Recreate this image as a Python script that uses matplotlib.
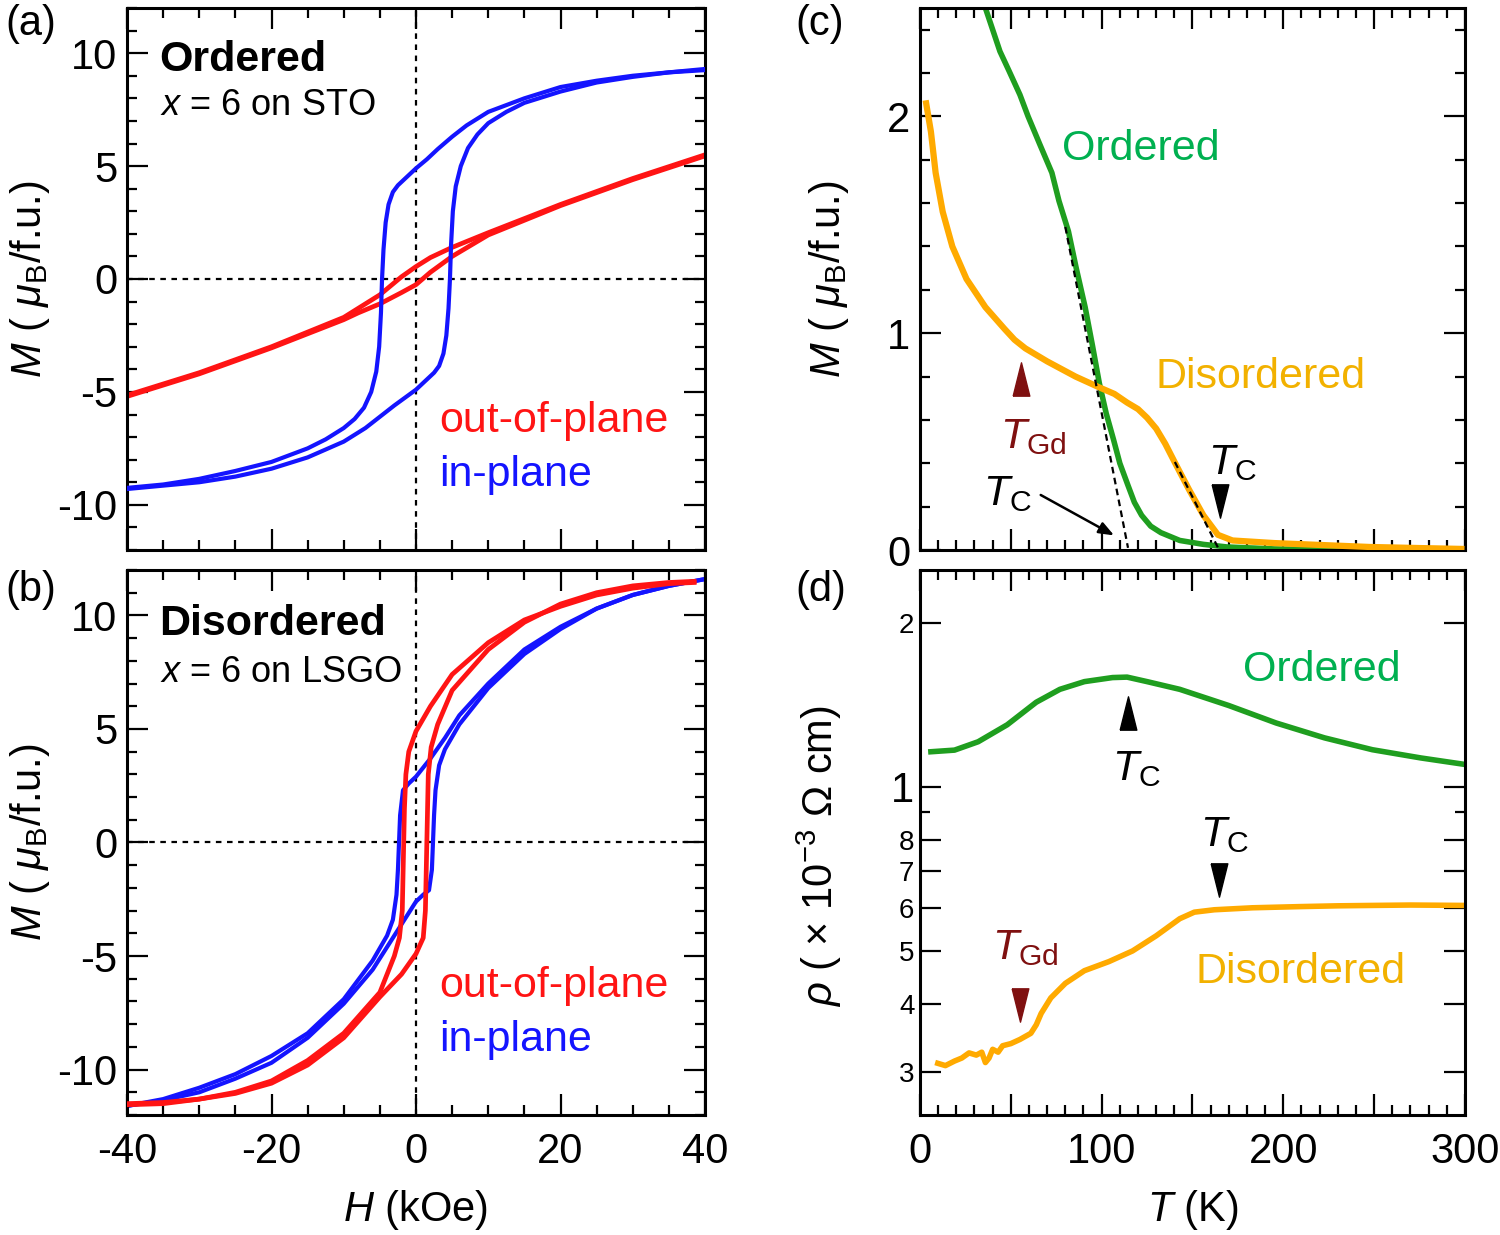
import matplotlib
matplotlib.use('Agg')
import matplotlib.pyplot as plt
from matplotlib.ticker import MultipleLocator, FixedLocator, NullFormatter, FuncFormatter

plt.rcParams['font.family'] = ['Liberation Sans', 'DejaVu Sans']
plt.rcParams['mathtext.fontset'] = 'custom'
plt.rcParams['mathtext.rm'] = 'Liberation Sans'
plt.rcParams['mathtext.it'] = 'Liberation Sans:italic'
plt.rcParams['mathtext.bf'] = 'Liberation Sans:bold'
plt.rcParams['axes.unicode_minus'] = False

# ---- (a) ordered, x = 6 on STO : M-H loops ----
a_blue_H_down = [40, 35, 30, 25, 20, 15, 10, 7, 5, 3, 1.5, 0, -1.5, -2.5, -3.2, -3.8, -4.2, -4.5, -4.7, -4.85, -5.1, -5.5, -6.2, -7.2, -8.5, -10, -12.5, -15, -20, -25, -30, -35, -40]
a_blue_M_down = [9.25, 9.15, 9.0, 8.78, 8.5, 8.0, 7.4, 6.8, 6.3, 5.75, 5.3, 4.9, 4.45, 4.15, 3.85, 3.3, 2.5, 1.3, 0, -1.5, -3.0, -4.1, -5.0, -5.7, -6.2, -6.6, -7.1, -7.5, -8.1, -8.5, -8.85, -9.1, -9.25]
a_blue_H_up = [-40, -35, -30, -25, -20, -15, -12.5, -10, -7, -5, -3, -1.5, 0, 1.5, 2.5, 3.2, 3.8, 4.2, 4.5, 4.7, 4.85, 5.1, 5.5, 6.2, 7.2, 8.5, 10, 12.5, 15, 20, 25, 30, 35, 40]
a_blue_M_up = [-9.3, -9.15, -9.0, -8.75, -8.4, -7.9, -7.55, -7.2, -6.6, -6.1, -5.6, -5.25, -4.9, -4.45, -4.15, -3.85, -3.3, -2.5, -1.3, 0, 1.5, 3.0, 4.1, 5.0, 5.8, 6.4, 6.9, 7.4, 7.8, 8.3, 8.7, 8.95, 9.15, 9.3]
a_red_H_down = [40, 30, 20, 10, 5, 2, 0, -2, -5, -8, -10, -20, -30, -40]
a_red_M_down = [5.5, 4.45, 3.3, 2.05, 1.4, 0.95, 0.55, 0.1, -0.7, -1.3, -1.7, -3.0, -4.15, -5.15]
a_red_H_up = [-40, -30, -20, -10, -8, -5, -2, 0, 2, 5, 10, 20, 30, 40]
a_red_M_up = [-5.2, -4.2, -3.05, -1.8, -1.5, -1.1, -0.6, -0.25, 0.3, 1.0, 1.95, 3.25, 4.4, 5.45]

# ---- (b) disordered, x = 6 on LSGO ----
b_red_H_down = [38.5, 35, 30, 25, 20, 15, 10, 5, 2, 0, -1, -1.4, -1.6, -1.7, -1.8, -1.9, -2.3, -3, -5, -10, -15, -20, -25, -30, -35, -40]
b_red_M_down = [11.45, 11.4, 11.2, 10.9, 10.4, 9.8, 8.8, 7.4, 6.0, 4.9, 4.0, 3.0, 1.5, 0, -1.5, -3.0, -4.2, -5.0, -6.6, -8.4, -9.6, -10.5, -11.0, -11.3, -11.45, -11.5]
b_red_H_up = [-40, -35, -30, -25, -20, -15, -10, -5, -2, 0, 1, 1.3, 1.4, 1.5, 1.6, 1.7, 2.1, 3, 5, 10, 15, 20, 25, 30, 35, 38.5]
b_red_M_up = [-11.55, -11.5, -11.3, -11.05, -10.6, -9.8, -8.6, -6.8, -5.8, -4.9, -4.2, -3.0, -1.5, 0, 1.5, 3.0, 4.2, 5.2, 6.7, 8.5, 9.7, 10.5, 11.0, 11.3, 11.45, 11.5]
b_blue_H_down = [40, 35, 30, 25, 20, 15, 10, 6, 4, 2, 0, -1, -1.8, -2.2, -2.35, -2.5, -2.7, -3.2, -4, -6, -10, -15, -20, -25, -30, -35, -40]
b_blue_M_down = [11.6, 11.3, 10.9, 10.3, 9.5, 8.5, 7.0, 5.6, 4.6, 3.7, 2.9, 2.6, 2.3, 1.2, 0, -1.2, -2.3, -3.4, -4.1, -5.2, -6.9, -8.4, -9.4, -10.2, -10.8, -11.3, -11.6]
b_blue_H_up = [-40, -35, -30, -25, -20, -15, -10, -6, -4, -2, 0, 1, 1.8, 2.2, 2.35, 2.5, 2.7, 3.2, 4, 6, 10, 15, 20, 25, 30, 35, 40]
b_blue_M_up = [-11.6, -11.35, -11.0, -10.4, -9.7, -8.6, -7.1, -5.6, -4.6, -3.6, -2.6, -2.3, -2.1, -1.2, 0, 1.2, 2.3, 3.4, 4.1, 5.2, 6.8, 8.3, 9.4, 10.3, 10.9, 11.3, 11.6]

# ---- (c) M-T ----
c_ord_T = [36, 44, 49, 55, 59.5, 66, 72.6, 76.5, 81.7, 86, 90.9, 95, 98.7, 102.5, 106.5, 110, 114.4, 118, 122, 127, 132.6, 143, 156, 169, 195, 220, 255]
c_ord_M = [2.5, 2.3, 2.21, 2.1, 2.0, 1.87, 1.74, 1.61, 1.47, 1.3, 1.12, 0.94, 0.77, 0.63, 0.51, 0.40, 0.30, 0.22, 0.16, 0.11, 0.08, 0.044, 0.026, 0.014, 0.005, 0.002, 0.0]
c_dis_T = [3.4, 6, 8.6, 12.5, 17.8, 25.6, 36, 46.5, 52, 58, 70, 85.6, 98.7, 107, 114, 120, 125, 130, 135, 140.5, 148, 156, 164, 172, 195, 221, 247.5, 275, 298]
c_dis_M = [2.06, 1.93, 1.74, 1.56, 1.40, 1.25, 1.12, 1.02, 0.97, 0.93, 0.87, 0.80, 0.75, 0.72, 0.68, 0.65, 0.61, 0.56, 0.49, 0.40, 0.28, 0.16, 0.07, 0.044, 0.032, 0.023, 0.014, 0.009, 0.005]
c_fit_ord_T = [80, 114.5]
c_fit_ord_M = [1.49, 0.01]
c_fit_dis_T = [140.3, 164.2]
c_fit_dis_M = [0.406, 0.008]

# ---- (d) resistivity (x 1e-3 Ohm cm) ----
d_ord_T = [6, 19, 32, 48, 64, 77, 90.5, 106, 114, 125, 143, 170, 196, 222.7, 249, 275.7, 299.5]
d_ord_R = [1.16, 1.168, 1.21, 1.30, 1.43, 1.51, 1.56, 1.587, 1.59, 1.56, 1.51, 1.41, 1.31, 1.23, 1.17, 1.13, 1.10]
d_dis_T = [9.8, 14, 19, 23, 27, 31, 34, 36, 38, 40, 43, 45.5, 50, 55, 61, 64, 66.7, 72, 80, 90.5, 104, 117, 130, 143, 151, 162, 183, 209, 230, 249, 270, 299.5]
d_dis_R = [0.311, 0.308, 0.314, 0.318, 0.325, 0.322, 0.326, 0.312, 0.318, 0.330, 0.326, 0.335, 0.338, 0.344, 0.353, 0.366, 0.384, 0.41, 0.436, 0.46, 0.478, 0.50, 0.533, 0.573, 0.589, 0.595, 0.60, 0.603, 0.605, 0.606, 0.607, 0.606]

RED = '#ff1414'
BLUE = '#1414ff'
GREEN = '#1f9e1f'
GREEN_TXT = '#00b050'
ORANGE = '#ffaa00'
ORANGE_TXT = '#f2b100'
DARKRED = '#7f1010'
FS = 30      # tick labels, axis labels
TS = 31      # text inside the panels

TRI_UP = [(-0.5, -1), (0.5, -1), (0, 1), (-0.5, -1)]
TRI_DN = [(-0.5, 1), (0.5, 1), (0, -1), (-0.5, 1)]

fig = plt.figure(figsize=(15, 12.35), dpi=100)
W, H = 1500.0, 1235.0
ax_a = fig.add_axes([127 / W, 1 - 550 / H, 578 / W, 542 / H])
ax_b = fig.add_axes([127 / W, 1 - 1115 / H, 578 / W, 545 / H])
ax_c = fig.add_axes([920 / W, 1 - 550 / H, 545 / W, 542 / H])
ax_d = fig.add_axes([920 / W, 1 - 1115 / H, 545 / W, 545 / H])


def style(ax):
    for s in ax.spines.values():
        s.set_linewidth(2.2)
    ax.tick_params(which='both', direction='in', top=True, right=True, width=1.6,
                   labelsize=FS, pad=7)
    ax.tick_params(which='major', length=15)
    ax.tick_params(which='minor', length=7.5)


# (a) and (b)
for ax in (ax_a, ax_b):
    style(ax)
    ax.set_xlim(-40, 40)
    ax.set_ylim(-12, 12)
    ax.xaxis.set_major_locator(MultipleLocator(20))
    ax.xaxis.set_minor_locator(MultipleLocator(5))
    ax.yaxis.set_major_locator(MultipleLocator(5))
    ax.yaxis.set_minor_locator(MultipleLocator(1))
    ax.axhline(0, color='k', lw=1.6, ls=(0, (2.5, 2.5)), zorder=1)
    ax.axvline(0, color='k', lw=1.6, ls=(0, (2.5, 2.5)), zorder=1)
    ax.set_ylabel(r'$M$ ( $\mu_{\rm B}$/f.u.)', fontsize=FS, labelpad=4)
    ax.text(3.2, -6.3, 'out-of-plane', color=RED, fontsize=TS, va='center')
    ax.text(3.2, -8.7, 'in-plane', color=BLUE, fontsize=TS, va='center')

ax_a.xaxis.set_major_formatter(NullFormatter())
ax_b.tick_params(axis='x', pad=12)
ax_b.set_xlabel(r'$H$ (kOe)', fontsize=FS, labelpad=12)

ax_a.plot(a_red_H_down, a_red_M_down, color=RED, lw=3.4, zorder=2)
ax_a.plot(a_red_H_up, a_red_M_up, color=RED, lw=3.4, zorder=2)
ax_a.plot(a_blue_H_down, a_blue_M_down, color=BLUE, lw=3.0, zorder=3)
ax_a.plot(a_blue_H_up, a_blue_M_up, color=BLUE, lw=3.0, zorder=3)

ax_b.plot(b_blue_H_down, b_blue_M_down, color=BLUE, lw=3.0, zorder=2)
ax_b.plot(b_blue_H_up, b_blue_M_up, color=BLUE, lw=3.0, zorder=2)
ax_b.plot(b_red_H_down, b_red_M_down, color=RED, lw=3.4, zorder=3)
ax_b.plot(b_red_H_up, b_red_M_up, color=RED, lw=3.4, zorder=3)

ax_a.text(-35.5, 9.7, 'Ordered', fontsize=TS, fontweight='bold', va='center')
ax_a.text(-35.5, 7.7, r'$x$ = 6 on STO', fontsize=26, va='center')
ax_b.text(-35.5, 9.6, 'Disordered', fontsize=TS, fontweight='bold', va='center')
ax_b.text(-35.5, 7.5, r'$x$ = 6 on LSGO', fontsize=26, va='center')

# (c) and (d)
for ax in (ax_c, ax_d):
    style(ax)
    ax.set_xlim(0, 300)
    ax.xaxis.set_major_locator(MultipleLocator(50))
    ax.xaxis.set_minor_locator(MultipleLocator(10))

ax_c.xaxis.set_major_formatter(NullFormatter())
ax_d.xaxis.set_major_formatter(FuncFormatter(lambda v, p: '%d' % v if v % 100 == 0 else ''))
ax_d.tick_params(axis='x', pad=12)
ax_d.set_xlabel(r'$T$ (K)', fontsize=FS, labelpad=12)

ax_c.set_ylim(0, 2.5)
ax_c.yaxis.set_major_locator(MultipleLocator(1))
ax_c.yaxis.set_minor_locator(MultipleLocator(0.2))
ax_c.set_ylabel(r'$M$ ( $\mu_{\rm B}$/f.u.)', fontsize=FS, labelpad=26)

ax_c.plot(c_ord_T, c_ord_M, color=GREEN, lw=4, zorder=2)
ax_c.plot(c_dis_T, c_dis_M, color=ORANGE, lw=4.5, zorder=3)
ax_c.plot(c_fit_ord_T, c_fit_ord_M, color='k', lw=1.6, ls=(0, (3, 2)), zorder=4)
ax_c.plot(c_fit_dis_T, c_fit_dis_M, color='k', lw=1.6, ls=(0, (3, 2)), zorder=4)

ax_c.text(121.6, 1.85, 'Ordered', color=GREEN_TXT, fontsize=TS, ha='center', va='center')
ax_c.text(187.7, 0.80, 'Disordered', color=ORANGE_TXT, fontsize=TS, ha='center', va='center')
ax_c.plot([55.6], [0.79], marker=TRI_UP, ms=24, color=DARKRED, mec=DARKRED, ls='none')
ax_c.text(44, 0.52, r'$T_{\rm Gd}$', color=DARKRED, fontsize=TS, va='center')
ax_c.text(34.5, 0.26, r'$T_{\rm C}$', color='k', fontsize=TS, va='center')
ax_c.annotate('', xy=(108.2, 0.061), xytext=(65.1, 0.26),
              arrowprops=dict(arrowstyle='-|>,head_length=0.9,head_width=0.35', color='k', lw=1.8))
ax_c.text(158.5, 0.40, r'$T_{\rm C}$', color='k', fontsize=TS, va='center')
ax_c.plot([165], [0.225], marker=TRI_DN, ms=24, color='k', ls='none')

ax_d.set_yscale('log')
ax_d.set_ylim(0.25, 2.5)
d_ticks = [0.3, 0.4, 0.5, 0.6, 0.7, 0.8, 1, 2]
d_labels = ['3', '4', '5', '6', '7', '8', '1', '2']
ax_d.yaxis.set_major_locator(FixedLocator(d_ticks))
ax_d.yaxis.set_minor_locator(FixedLocator([0.9]))
ax_d.yaxis.set_minor_formatter(NullFormatter())
ax_d.set_yticklabels(d_labels)
for lab in ax_d.get_yticklabels():
    lab.set_fontsize(FS if lab.get_text() == '1' else 20)
ax_d.tick_params(axis='y', pad=4)
ax_d.set_ylabel(r'$\rho$ ( $\times$ 10$^{-3}$ $\Omega$ cm)', fontsize=FS)
ax_d.yaxis.set_label_coords(-0.14, 0.475)

ax_d.plot(d_ord_T, d_ord_R, color=GREEN, lw=4, zorder=2)
ax_d.plot(d_dis_T, d_dis_R, color=ORANGE, lw=4, zorder=2)
ax_d.text(221, 1.64, 'Ordered', color=GREEN_TXT, fontsize=TS, ha='center', va='center')
ax_d.text(209.7, 0.4576, 'Disordered', color=ORANGE_TXT, fontsize=TS, ha='center', va='center')
ax_d.plot([114.5], [1.367], marker=TRI_UP, ms=24, color='k', ls='none')
ax_d.text(105.7, 1.079, r'$T_{\rm C}$', color='k', fontsize=TS, va='center')
ax_d.text(154, 0.816, r'$T_{\rm C}$', color='k', fontsize=TS, va='center')
ax_d.plot([164.6], [0.675], marker=TRI_DN, ms=24, color='k', ls='none')
ax_d.text(39.6, 0.5066, r'$T_{\rm Gd}$', color=DARKRED, fontsize=TS, va='center')
ax_d.plot([55], [0.398], marker=TRI_DN, ms=24, color=DARKRED, ls='none')

for lbl, (px, py) in zip(['(a)', '(b)', '(c)', '(d)'], [(5, 24), (5, 590), (795, 24), (795, 590)]):
    fig.text(px / W, 1 - py / H, lbl, fontsize=FS, va='center', ha='left')

fig.savefig('out.png', dpi=100)
